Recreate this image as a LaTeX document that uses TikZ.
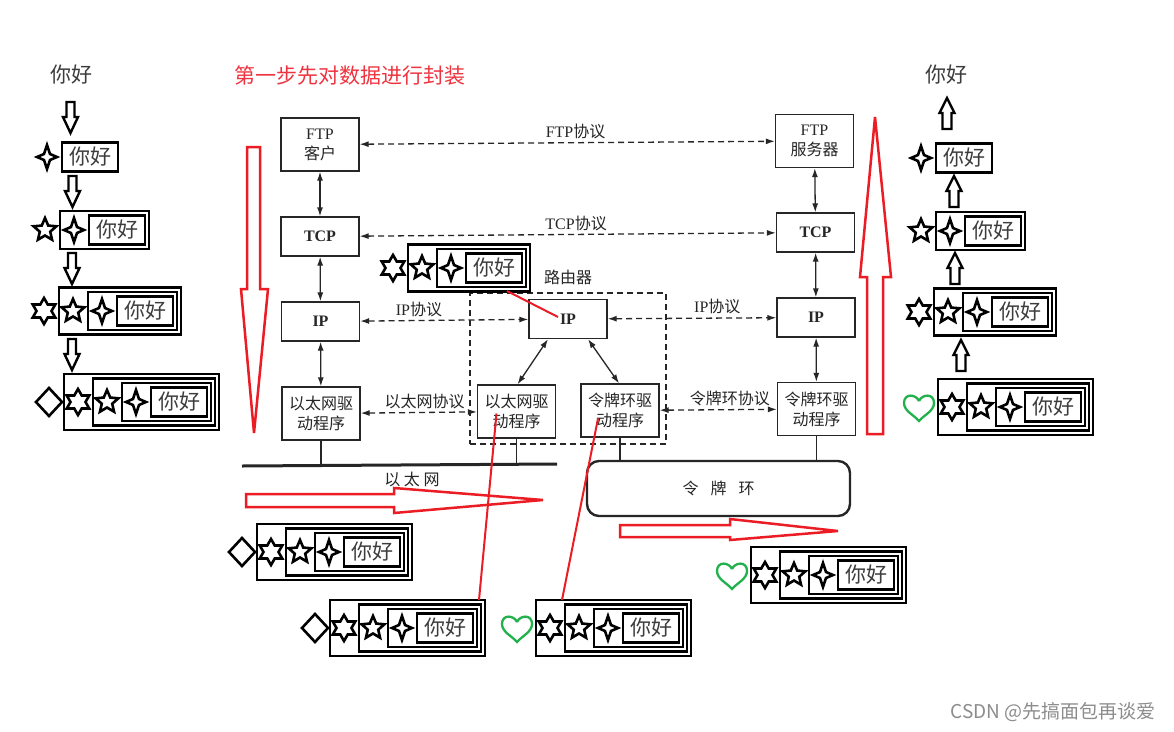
\documentclass[tikz,border=0pt]{standalone}
\usepackage{fontspec}
\setmainfont{Liberation Serif}
\newfontfamily\cjk{Noto Sans CJK SC}
\usepackage{tikz}
\usetikzlibrary{
  positioning,
  calc,
  arrows.meta
}
\definecolor{mkred}{HTML}{EC1C24}
\definecolor{stepred}{HTML}{EE3440}
\definecolor{mkgreen}{HTML}{22B14C}
\definecolor{scan}{HTML}{262626}
\definecolor{nihao}{HTML}{3C3C3C}

\newcommand{\zh}[1]{{\cjk #1}}

% one packet: name, left of outer box, middle y, header symbols (outer to inner)
\newcommand{\packet}[4]{%
  \foreach \s [count=\k] in {#4} {\xdef\pktn{\k}}
  \foreach \s [count=\j] in {#4} {
    \pgfmathsetmacro\bl{#2+29*(\j-1)}
    \pgfmathsetmacro\br{#2+56+33*(\pktn-1)-4*(\j-1)}
    \pgfmathsetmacro\bh{14.5+4.5*(\pktn-\j)}
    \pgfmathsetmacro\sx{\bl-15}
    \draw[pktbox] (\bl,#3-\bh) rectangle (\br,#3+\bh);
    \edef\pktdo{\noexpand\pic at (\sx,#3) {\s};}\pktdo
  }
  \pgfmathsetmacro\tx{#2+29*(\pktn-1)+28}
  \node[nihaotext] (#1) at (\tx,#3) {你好};
}

\tikzset{
  proto/.style={draw=scan, line width=1.3pt, minimum width=78pt, align=center,
    font=\fontsize{16}{20}\selectfont, text=scan, inner sep=2pt},
  protoone/.style={proto, minimum height=39pt},
  prototwo/.style={proto, minimum height=53pt},
  link/.style={scan, line width=1.3pt,
    {Latex[length=9pt,width=6pt]}-{Latex[length=9pt,width=6pt]}},
  peer/.style={link, dash pattern=on 6pt off 4pt},
  plabel/.style={text=scan, font=\fontsize{16}{18}\selectfont},
  nihaotext/.style={text=nihao, font=\cjk\fontsize{21}{24}\selectfont, inner sep=0pt},
  pktbox/.style={line width=2.5pt},
  redarrow/.style={mkred, line width=2.5pt, line join=miter},
  redline/.style={mkred, line width=2pt},
  sparkle/.pic={\draw[line width=2.6pt] (0,-12) -- (3,-3) -- (10,0) -- (3,3)
    -- (0,12) -- (-3,3) -- (-10,0) -- (-3,-3) -- cycle;},
  pentstar/.pic={\draw[line width=2.6pt] (-90:12) -- (-54:5.5) -- (-18:12) -- (18:5.5)
    -- (54:12) -- (90:5.5) -- (126:12) -- (162:5.5) -- (198:12) -- (234:5.5) -- cycle;},
  hexstar/.pic={\draw[line width=2.6pt] (-90:13) -- (-60:7.5) -- (-30:13) -- (0:7.5)
    -- (30:13) -- (60:7.5) -- (90:13) -- (120:7.5) -- (150:13) -- (180:7.5)
    -- (210:13) -- (240:7.5) -- cycle;},
  rhomb/.pic={\draw[line width=2.6pt] (0,-14) -- (13,0) -- (0,14) -- (-13,0) -- cycle;},
  heart/.pic={\draw[mkgreen, line width=2.3pt, xshift=-4pt]
    (0,-6) .. controls (3,-13) and (15,-14) .. (15,-4)
    .. controls (15,4) and (5,8) .. (0,14)
    .. controls (-5,8) and (-15,4) .. (-15,-4)
    .. controls (-15,-14) and (-3,-13) .. (0,-6);},
  harrowdown/.pic={\draw[line width=2.4pt, line join=miter] (-4,0) -- (4,0) -- (4,15)
    -- (7.5,15) -- (0,31) -- (-7.5,15) -- (-4,15) -- cycle;},
  harrowup/.pic={\draw[line width=2.4pt, line join=miter] (-4.5,31) -- (4.5,31) -- (4.5,15)
    -- (7.5,15) -- (0,0) -- (-7.5,15) -- (-4.5,15) -- cycle;}
}

\begin{document}
\begin{tikzpicture}[x=1pt, y=-1pt]
      \useasboundingbox (0,0) rectangle (1174,731);
      \fill[white] (0,0) rectangle (1174,731);

      % Titles
      \node[nihaotext] (srcmsg) at (71,75) {你好};
      \node[nihaotext] (dstmsg) at (946,75) {你好};
      \node[text=stepred, font=\cjk\fontsize{21}{24}\selectfont, inner sep=0pt] (steplbl) at (349.5,76) {第一步先对数据进行封装};

      % Sender side, wrapping downwards
      \pic at (70.5,102) {harrowdown};
      \packet{pktl1}{62}{157}{sparkle}
      \pic at (72.5,176) {harrowdown};
      \packet{pktl2}{60}{230}{pentstar,sparkle}
      \pic at (72,253) {harrowdown};
      \packet{pktl3}{59}{311}{hexstar,pentstar,sparkle}
      \pic at (72,339) {harrowdown};
      \packet{pktl4}{64}{402}{rhomb,hexstar,pentstar,sparkle}

      % Receiver side, unwrapping upwards
      \pic at (947,98) {harrowup};
      \packet{pktr1}{936}{158}{sparkle}
      \pic at (954,176) {harrowup};
      \packet{pktr2}{936}{231}{pentstar,sparkle}
      \pic at (955,253) {harrowup};
      \packet{pktr3}{934}{312}{hexstar,pentstar,sparkle}
      \pic at (961,340) {harrowup};
      \packet{pktr4}{938}{407}{heart,hexstar,pentstar,sparkle}

      % Protocol stacks
      \node[prototwo] (ftpc) at (320,144.5) {FTP\\\zh{客户}};
      \node[protoone] (tcpl) at (320,236.5) {\bfseries TCP};
      \node[protoone] (ipl) at (320.5,321.5) {\bfseries IP};
      \node[prototwo] (ethl) at (321,413.5) {\zh{以太网驱}\\\zh{动程序}};

      \node[prototwo] (ftps) at (814.5,141) {FTP\\\zh{服务器}};
      \node[protoone] (tcpr) at (815.5,232.5) {\bfseries TCP};
      \node[protoone] (ipr) at (816,317.5) {\bfseries IP};
      \node[prototwo] (tokr) at (816.5,409) {\zh{令牌环驱}\\\zh{动程序}};

      % Router
      \node[draw=scan, line width=1.3pt, dash pattern=on 6pt off 4pt, minimum width=196pt, minimum height=151pt] (router) at (568,368.5) {};
      \node[plabel, above=4pt of router] (routerlbl) {\zh{路由器}};
      \node[protoone] (iprt) at (568,319) {\bfseries IP};
      \node[prototwo] (ethrt) at (516.5,411.5) {\zh{以太网驱}\\\zh{动程序}};
      \node[prototwo] (tokrt) at (620,410.5) {\zh{令牌环驱}\\\zh{动程序}};

      % Layer links
      \draw[link] (ftpc) -- (tcpl);
      \draw[link] (tcpl) -- (ipl);
      \draw[link] (ipl) -- (ethl);
      \draw[link] (ftps) -- (tcpr);
      \draw[link] (tcpr) -- (ipr);
      \draw[link] (ipr) -- (tokr);
      \draw[link] ($(iprt.south)+(-20,0)$) -- ($(ethrt.north)+(1,0)$);
      \draw[link] ($(iprt.south)+(20,0)$) -- ($(tokrt.north)+(-1,0)$);

      % Peer protocols
      \draw[peer] (ftpc) -- node[plabel, above, pos=0.52] (ftplbl) {FTP\zh{协议}} (ftps);
      \draw[peer] (tcpl) -- node[plabel, above, pos=0.52] (tcplbl) {TCP\zh{协议}} (tcpr);
      \draw[peer] (ipl) -- node[plabel, above, pos=0.35] (iplbll) {IP\zh{协议}} (iprt);
      \draw[peer] (iprt) -- node[plabel, above, pos=0.65] (iplblr) {IP\zh{协议}} (ipr);
      \draw[peer] (ethl) -- node[plabel, above, pos=0.55] (ethlbl) {\zh{以太网协议}} (ethrt);
      \draw[peer] (tokrt) -- node[plabel, above, pos=0.6] (toklbl) {\zh{令牌环协议}} (tokr);

      % Networks
      \coordinate (busw) at (242,466);
      \coordinate (buse) at (557,464);
      \draw[scan, line width=3pt] (busw) -- (buse);
      \node[plabel] (buslbl) at (412,479) {\zh{以 太 网}};
      \draw[scan, line width=1.2pt] (ethl.south) -- (ethl.south |- busw);
      \draw[scan, line width=1.2pt] (ethrt.south) -- (ethrt.south |- busw);
      \node[draw=scan, line width=2.4pt, rounded corners=12pt, minimum width=263pt, minimum height=55pt, plabel] (tokring) at (718.5,488.5) {\zh{令\hspace{12pt}牌\hspace{12pt}环}};
      \draw[scan, line width=1.2pt] (tokrt.south) -- (tokrt.south |- tokring.north);
      \draw[scan, line width=1.2pt] (tokr.south) -- (tokr.south |- tokring.north);

      % Packets in transit
      \packet{pktrt}{408}{268}{hexstar,pentstar,sparkle}
      \packet{pktea}{257}{552}{rhomb,hexstar,pentstar,sparkle}
      \packet{pkteb}{330}{628}{rhomb,hexstar,pentstar,sparkle}
      \packet{pkttc}{536}{628}{heart,hexstar,pentstar,sparkle}
      \packet{pkttd}{751}{575}{heart,hexstar,pentstar,sparkle}

      % Big red arrows
      \draw[redarrow] (247,147) -- (260,147) -- (260,289) -- (268,289) -- (254,433) -- (241,289) -- (247,289) -- cycle;
      \draw[redarrow] (867,434) -- (883,434) -- (883,277) -- (891,277) -- (875,117) -- (860,277) -- (867,277) -- cycle;
      \draw[redarrow] (246,494) -- (394,494) -- (394,488) -- (543,500) -- (394,513) -- (394,507) -- (246,507) -- cycle;
      \draw[redarrow] (620,525) -- (730,525) -- (730,519) -- (838,531) -- (730,540) -- (730,537) -- (620,537) -- cycle;

      % Red pointers
      \coordinate (rttail) at (507,291);
      \coordinate (ebtop) at (479,600);
      \coordinate (tctop) at (562,600);
      \draw[redline] (rttail) -- ($(iprt.center)+(-10,-2)$);
      \draw[redline] ($(ethrt.center)+(-20,2)$) -- (ebtop);
      \draw[redline] ($(tokrt.center)+(-22,8)$) -- (tctop);

      % Watermark
      \node[text=black!45, font=\cjk\fontsize{19}{21}\selectfont, inner sep=0pt] (wmark) at (1053,712) {CSDN @先搞面包再谈爱};
    \end{tikzpicture}
\end{document}
